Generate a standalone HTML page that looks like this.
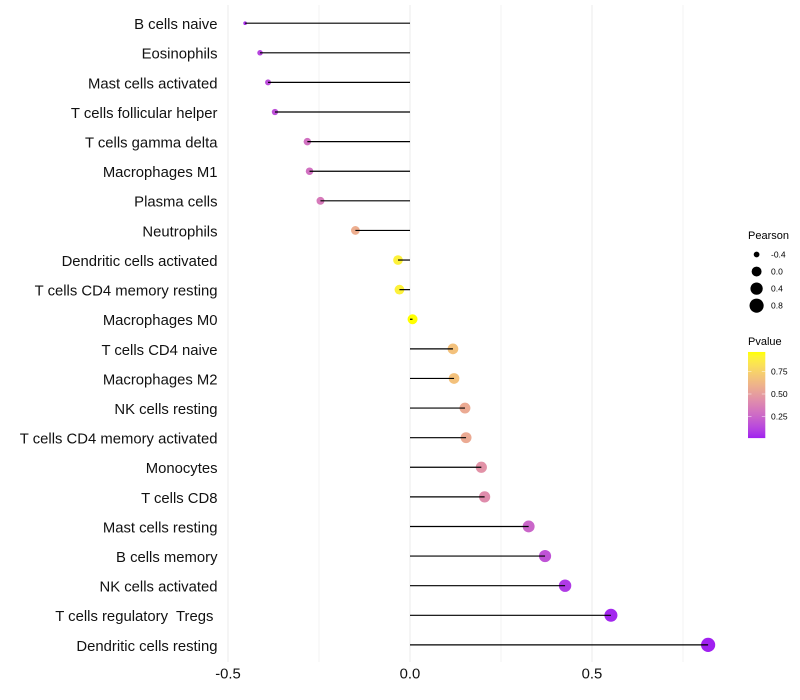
<!DOCTYPE html>
<html>
<head>
<meta charset="utf-8">
<title>Lollipop chart</title>
<style>
html,body{margin:0;padding:0;background:#fff;}
svg{display:block;font-family:"Liberation Sans",sans-serif;}
text{white-space:pre;}
</style>
</head>
<body>
<svg id="chart" width="800" height="700" viewBox="0 0 800 700">
<defs>
<linearGradient id="pvalue-gradient" x1="0" y1="1" x2="0" y2="0"></linearGradient>
</defs>
<rect width="800" height="700" fill="#fff"></rect>
<g id="grid"></g>
<g id="points"></g>
<g id="stems"></g>
<g id="ylabels"></g>
<g id="xlabels"></g>
<g id="size-legend"></g>
<g id="color-legend"></g>
</svg>
<script>
const categories = ["B cells naive","Eosinophils","Mast cells activated","T cells follicular helper","T cells gamma delta","Macrophages M1","Plasma cells","Neutrophils","Dendritic cells activated","T cells CD4 memory resting","Macrophages M0","T cells CD4 naive","Macrophages M2","NK cells resting","T cells CD4 memory activated","Monocytes","T cells CD8","Mast cells resting","B cells memory","NK cells activated","T cells regulatory  Tregs ","Dendritic cells resting"];
const pearson = [-0.453,-0.412,-0.39,-0.371,-0.282,-0.276,-0.246,-0.15,-0.033,-0.029,0.007,0.118,0.121,0.151,0.154,0.196,0.205,0.326,0.371,0.426,0.552,0.819];
const pvalue = [0.05,0.12,0.15,0.16,0.3,0.3,0.34,0.58,0.9,0.9,0.967,0.67,0.67,0.56,0.56,0.45,0.42,0.25,0.17,0.08,0.025,0.01];
const xMajorTicks = [-0.5,0,0.5];
const xMinorTicks = [-0.25,0.25,0.75];
const xTickLabels = ["-0.5","0.0","0.5"];
const sizeLegendValues = [-0.4,0,0.4,0.8];
const sizeLegendLabels = ["-0.4","0.0","0.4","0.8"];
const colorLegendValues = [0.25,0.5,0.75];
const colorLegendLabels = ["0.25","0.50","0.75"];

const NS = "http://www.w3.org/2000/svg";
function make(tag, attrs, parent, txt){
  const el = document.createElementNS(NS, tag);
  for (const k in attrs) el.setAttribute(k, attrs[k]);
  if (txt !== undefined) el.textContent = txt;
  parent.appendChild(el);
  return el;
}
const slug = s => s.trim().toLowerCase().replace(/[^a-z0-9]+/g, "-");

/* axis functions */
const xScale = v => 410 + v * 364;
const yScale = i => 23.2 + i * (644.9 - 23.2) / (categories.length - 1);
const corMin = Math.min(...pearson), corMax = Math.max(...pearson);
const rScale = v => 1.8 + 5.3 * Math.sqrt(Math.max(0, (v - corMin) / (corMax - corMin)));
const pMin = Math.min(...pvalue), pMax = Math.max(...pvalue);
const legendY = p => 439 - p * 90;

/* Lab colour interpolation, purple to yellow */
function toLab(rgb){
  const l = rgb.map(c => { c /= 255; return c > 0.04045 ? Math.pow((c + 0.055) / 1.055, 2.4) : c / 12.92; });
  const X = (0.4124*l[0] + 0.3576*l[1] + 0.1805*l[2]) / 0.95047;
  const Y = 0.2126*l[0] + 0.7152*l[1] + 0.0722*l[2];
  const Z = (0.0193*l[0] + 0.1192*l[1] + 0.9505*l[2]) / 1.08883;
  const f = t => t > 0.008856 ? Math.cbrt(t) : 7.787*t + 16/116;
  return [116*f(Y)-16, 500*(f(X)-f(Y)), 200*(f(Y)-f(Z))];
}
function fromLab(lab){
  const fy = (lab[0]+16)/116, fx = fy + lab[1]/500, fz = fy - lab[2]/200;
  const g = t => t*t*t > 0.008856 ? t*t*t : (t-16/116)/7.787;
  const X = g(fx)*0.95047, Y = g(fy), Z = g(fz)*1.08883;
  const lin = [3.2406*X-1.5372*Y-0.4986*Z, -0.9689*X+1.8758*Y+0.0415*Z, 0.0557*X-0.2040*Y+1.0570*Z];
  const c = lin.map(v => { v = Math.max(0, Math.min(1, v)); return Math.round(255*(v > 0.0031308 ? 1.055*Math.pow(v,1/2.4)-0.055 : 12.92*v)); });
  return "rgb(" + c.join(",") + ")";
}
const labLow = toLab([160,32,240]), labHigh = toLab([255,255,0]);
const mix = t => fromLab(labLow.map((a,i) => a + (labHigh[i]-a)*t));
const colorScale = p => mix((p - pMin) / (pMax - pMin));

/* grid */
const grid = document.getElementById("grid");
xMinorTicks.forEach(v => {
  const l = make("line", {x1:xScale(v), x2:xScale(v), y1:5, y2:662, stroke:"#ebebeb", "stroke-width":0.6}, grid);
  
  
});
xMajorTicks.forEach(v => {
  const l = make("line", {x1:xScale(v), x2:xScale(v), y1:5, y2:662, stroke:"#ebebeb", "stroke-width":1}, grid);
  
  
});

/* marks */
const pointsG = document.getElementById("points");
const stemsG = document.getElementById("stems");
const ylabG = document.getElementById("ylabels");
categories.forEach((c, i) => {
  const y = yScale(i);
  const dot = make("circle", {cx:xScale(pearson[i]), cy:y, r:rScale(pearson[i]), fill:colorScale(pvalue[i])}, pointsG);
  
  
  const stem = make("line", {x1:xScale(0), x2:xScale(pearson[i]), y1:y, y2:y, stroke:"#000", "stroke-width":1.2}, stemsG);
  
  
  const lab = make("text", {x:217.5, y:y + 5.9, "text-anchor":"end", "font-size":14.85, fill:"#111"}, ylabG, c);
  
  
});

/* x labels */
const xlabG = document.getElementById("xlabels");
xMajorTicks.forEach((v, i) => {
  const t = make("text", {x:xScale(v), y:678.5, "text-anchor":"middle", "font-size":14.85, fill:"#111"}, xlabG, xTickLabels[i]);
  
  
});

/* size legend */
const sizeG = document.getElementById("size-legend");
const sizeTitle = make("text", {x:748, y:239, "font-size":11, fill:"#000"}, sizeG, "Pearson");


sizeLegendValues.forEach((v, i) => {
  const y = 254.5 + i * 17.05;
  const k = make("circle", {cx:756.6, cy:y, r:rScale(v), fill:"#000"}, sizeG);
  
  
  const t = make("text", {x:771, y:y + 3, "font-size":8.5, fill:"#000"}, sizeG, sizeLegendLabels[i]);
  
  
});

/* colour legend */
const grad = document.getElementById("pvalue-gradient");
for (let s = 0; s <= 20; s++) {
  make("stop", {offset:(s*5) + "%", "stop-color":mix(s/20)}, grad);
}
const colG = document.getElementById("color-legend");
const colTitle = make("text", {x:748, y:345, "font-size":11, fill:"#000"}, colG, "Pvalue");


const bar = make("rect", {x:748, y:legendY(pMax), width:17.3, height:legendY(pMin) - legendY(pMax), fill:"url(#pvalue-gradient)"}, colG);


colorLegendValues.forEach((v, i) => {
  const y = legendY(v);
  const a = make("line", {x1:748, x2:751.5, y1:y, y2:y, stroke:"#fff", "stroke-width":0.6, "stroke-opacity":0.8}, colG);
  
  
  const b = make("line", {x1:761.8, x2:765.3, y1:y, y2:y, stroke:"#fff", "stroke-width":0.6, "stroke-opacity":0.8}, colG);
  
  
  const t = make("text", {x:771, y:y + 3, "font-size":8.5, fill:"#000"}, colG, colorLegendLabels[i]);
  
  
});
</script>
</body>
</html>
